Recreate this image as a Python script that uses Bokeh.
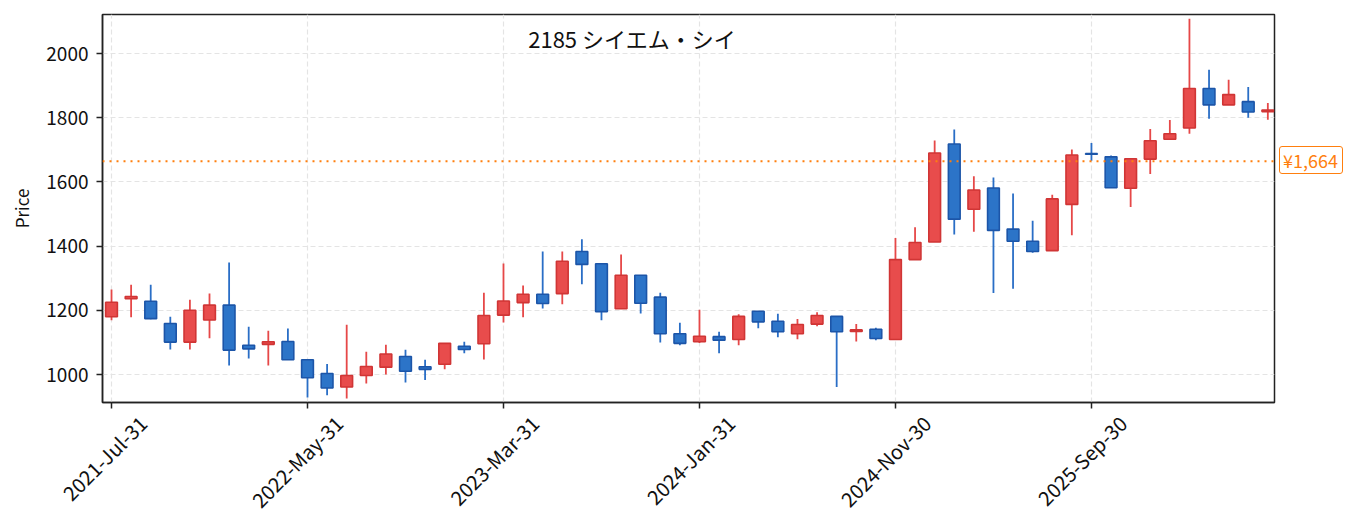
import math
import pandas as pd
from bokeh.plotting import figure
from bokeh.models import (Range1d, FixedTicker, Span, Label, ColumnDataSource, LinearAxis,
                          Legend, LegendItem)
from bokeh.embed import file_html
from bokeh.resources import INLINE

# ---- data ----
month_starts = pd.date_range("2021-07-01", periods=60, freq="MS")
dates = [(d + pd.offsets.MonthEnd(0)).strftime("%Y-%b-%d") for d in month_starts]

open_ = [1180, 1236, 1228, 1159, 1101, 1170, 1216, 1091, 1094, 1103,
         1046, 1003, 961, 997, 1023, 1056, 1024, 1032, 1088, 1096,
         1185, 1224, 1250, 1252, 1383, 1345, 1205, 1309, 1241, 1127,
         1102, 1118, 1109, 1197, 1166, 1127, 1157, 1181, 1134, 1141,
         1109, 1358, 1413, 1718, 1515, 1581, 1453, 1415, 1386, 1530,
         1688, 1678, 1580, 1671, 1733, 1768, 1891, 1840, 1850, 1819]
high = [1265, 1280, 1280, 1180, 1233, 1252, 1349, 1149, 1136, 1143,
        1046, 1033, 1155, 1071, 1093, 1077, 1046, 1097, 1102, 1255,
        1346, 1277, 1383, 1383, 1421, 1345, 1374, 1309, 1255, 1161,
        1202, 1133, 1188, 1197, 1189, 1173, 1194, 1181, 1157, 1146,
        1425, 1459, 1729, 1763, 1618, 1614, 1564, 1479, 1560, 1701,
        1721, 1682, 1672, 1765, 1793, 2108, 1949, 1918, 1896, 1846]
low = [1169, 1178, 1172, 1078, 1078, 1113, 1028, 1050, 1028, 1046,
       928, 935, 925, 972, 1000, 975, 983, 1016, 1066, 1047,
       1162, 1178, 1206, 1219, 1281, 1169, 1205, 1190, 1100, 1091,
       1098, 1066, 1091, 1144, 1116, 1110, 1150, 961, 1103, 1107,
       1109, 1357, 1413, 1436, 1445, 1254, 1267, 1379, 1386, 1434,
       1666, 1582, 1522, 1625, 1733, 1750, 1797, 1840, 1800, 1794]
close = [1225, 1243, 1174, 1101, 1200, 1216, 1076, 1080, 1102, 1046,
         990, 958, 997, 1025, 1064, 1010, 1016, 1097, 1078, 1184,
         1229, 1250, 1221, 1353, 1343, 1196, 1309, 1222, 1127, 1097,
         1119, 1107, 1181, 1164, 1133, 1156, 1184, 1133, 1139, 1112,
         1358, 1411, 1690, 1484, 1575, 1449, 1415, 1383, 1547, 1684,
         1686, 1582, 1672, 1728, 1750, 1891, 1840, 1872, 1818, 1824]

title_text = "2185  シイエム・シイ"
last_price = 1664
tick_step = 10
y_ticks = [1000, 1200, 1400, 1600, 1800, 2000]

# ---- styles ----
FONT = "Noto Sans CJK JP"
UP_FILL, UP_LINE, UP_WICK = "#e84c4c", "#d03535", "#e64848"
DN_FILL, DN_LINE, DN_WICK = "#2c74c8", "#1c55a8", "#2a6ec6"
ORANGE = "#ff7f0e"
TXT = "#111111"

BORDER_L, BORDER_T, FRAME_W, FRAME_H = 102, 14, 1172, 388
Y0, Y1 = 912.8, 2121.5

n = len(dates)
idx = list(range(n))
up = [c >= o for o, c in zip(open_, close)]
src = ColumnDataSource(dict(
    x=idx, high=high, low=low,
    top=[max(o, c) for o, c in zip(open_, close)],
    bottom=[min(o, c) for o, c in zip(open_, close)],
    fill=[UP_FILL if u else DN_FILL for u in up],
    line=[UP_LINE if u else DN_LINE for u in up],
    wick=[UP_WICK if u else DN_WICK for u in up],
))

x_start, x_end = -0.46, n - 1 + 0.34
p = figure(frame_width=FRAME_W, frame_height=FRAME_H,
           x_range=Range1d(x_start, x_end), y_range=Range1d(Y0, Y1),
           output_backend="svg", toolbar_location=None,
           min_border_left=BORDER_L, min_border_right=70, min_border_top=BORDER_T,
           min_border_bottom=100,
           background_fill_color="white", border_fill_color="white")

p.segment(x0="x", y0="high", x1="x", y1="low", source=src, line_color="wick", line_width=1.8)
p.vbar(x="x", width=0.6, top="top", bottom="bottom", source=src,
       fill_color="fill", line_color="line", line_width=1.6)

p.add_layout(Span(location=last_price, dimension="width", line_color=ORANGE,
                  line_dash="2 5", line_width=2))

p.add_layout(Label(x=x_start + 0.454 * (x_end - x_start), y=2047, text=title_text,
                   text_font=FONT, text_font_size="22px", text_color=TXT,
                   text_align="center", text_baseline="middle"))

# last-price tag: a boxed one-item legend in the right panel
tag_renderer = p.line(x=[], y=[], line_alpha=0)
tag_h = 26
tag_y = (last_price - Y0) / (Y1 - Y0) * FRAME_H - tag_h / 2
tag = Legend(items=[LegendItem(label=f"¥{last_price:,}", renderers=[tag_renderer])],
             location=(5, tag_y), orientation="vertical",
             glyph_width=3, glyph_height=14, label_height=14, label_width=59,
             label_standoff=0,
             label_text_font=FONT, label_text_font_size="18px", label_text_color=ORANGE,
             padding=0, margin=0, spacing=0,
             background_fill_color="white", background_fill_alpha=1,
             border_line_color=ORANGE, border_line_width=1.3, border_line_alpha=1)
try:
    tag.border_radius = 3
except Exception:
    pass
p.add_layout(tag, "right")

# axes: main x axis carries ticks only, a second axis carries the rotated labels
tick_idx = idx[::tick_step]
p.xaxis.ticker = FixedTicker(ticks=tick_idx)
p.xaxis.major_label_overrides = {i: "" for i in tick_idx}
p.xaxis.major_label_text_font_size = "0px"
p.xaxis.major_label_standoff = 0

label_shift = 1.6
lab_axis = LinearAxis(ticker=FixedTicker(ticks=[i + label_shift for i in tick_idx]),
                      major_label_overrides={i + label_shift: dates[i] for i in tick_idx},
                      major_label_orientation=math.pi / 4,
                      major_label_text_font=FONT, major_label_text_font_size="20px",
                      major_label_text_color=TXT, major_label_standoff=11,
                      major_tick_in=0, major_tick_out=0, minor_tick_line_color=None,
                      major_tick_line_color=None, axis_line_color=None)
p.add_layout(lab_axis, "below")

yax = p.yaxis[0]
yax.ticker = FixedTicker(ticks=y_ticks)
yax.axis_label = "Price"
yax.axis_label_text_font_style = "normal"
yax.axis_label_standoff = 9
yax.major_label_text_font = FONT
yax.major_label_text_font_size = "19px"
yax.major_label_text_color = TXT
yax.axis_label_text_font = FONT
yax.axis_label_text_font_size = "17px"
yax.axis_label_text_color = TXT
yax.major_label_standoff = 8

for ax in (p.xaxis[0], yax):
    ax.minor_tick_line_color = None
    ax.major_tick_in = 0
    ax.major_tick_out = 6
    ax.major_tick_line_width = 1.5
    ax.major_tick_line_color = "#222222"
    ax.axis_line_color = "#222222"
    ax.axis_line_width = 1.5

p.outline_line_color = "#222222"
p.outline_line_width = 1.5
p.outline_line_alpha = 1

for g in (p.xgrid[0], p.ygrid[0]):
    g.grid_line_color = "#e4e4e4"
    g.grid_line_dash = "5 3"
    g.grid_line_width = 1.2

open("out.html", "w").write(file_html(p, INLINE))
